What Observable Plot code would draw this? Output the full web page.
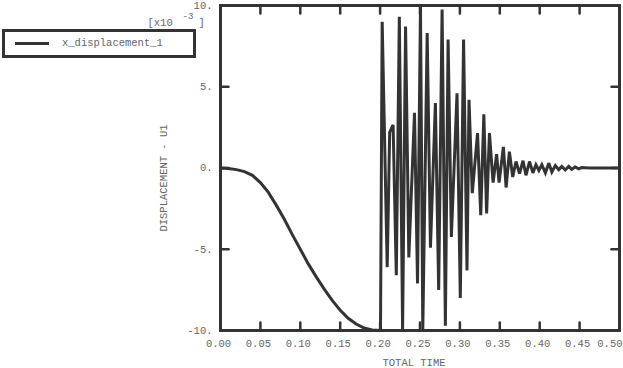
<!DOCTYPE html>
<html><head><meta charset="utf-8">
<script src="https://cdn.jsdelivr.net/npm/d3@7"></script>
<script src="https://cdn.jsdelivr.net/npm/@observablehq/plot@0.6"></script>
<style>
body{margin:0;background:#fff;}
#wrap{position:relative;width:623px;height:368px;}
#legend{position:absolute;left:2px;top:29px;width:194px;height:29px;box-sizing:border-box;border:3px solid #333;background:#fff;font:10.5px "Liberation Mono",monospace;color:#666;}
#legend .sw{position:absolute;left:10px;top:9.5px;width:34px;height:3px;background:#333;}
#legend .lb{position:absolute;left:57px;top:0;line-height:23px;white-space:pre;}
</style></head>
<body>
<div id="wrap"><div id="chart"></div>
<div id="legend"><span class="sw"></span><span class="lb">x_displacement_1</span></div></div>
<script>
// time (s)
const time = [0,0.01,0.02,0.03,0.04,0.05,0.06,0.07,0.08,0.09,0.10,0.11,0.12,0.13,0.14,0.15,0.16,0.17,0.18,0.19,0.2005,
0.2026,0.2089,0.2120,0.2163,0.2203,0.2241,0.2282,0.2319,0.2360,0.2431,0.2469,0.2506,0.2535,0.2590,0.2631,0.2693,0.2734,
0.2777,0.2818,0.2852,0.2893,0.2964,0.3005,0.3046,0.3089,0.3114,0.3155,0.3221,0.3261,0.3300,0.3335,0.3370,0.3416,0.3460,
0.3491,0.3545,0.3579,0.3620,0.3662,0.3703,0.3747,0.3791,0.3828,0.3872,0.3915,0.3953,0.3990,0.4027,0.4071,0.4115,0.4152,
0.4196,0.4239,0.4277,0.4320,0.4364,0.4401,0.4445,0.4489,0.4526,0.4626,0.5];
// displacement U1 (x10^-3)
const disp = [0,-0.03,-0.1,-0.22,-0.45,-0.9,-1.5,-2.3,-3.15,-4.1,-5.0,-5.9,-6.7,-7.45,-8.15,-8.75,-9.25,-9.6,-9.85,-9.97,-10,
9.0,-6.1,2.2,2.65,-6.6,9.3,-9.9,8.7,-5.5,3.4,-7.1,9.9,-10,8.3,-4.9,4.0,-7.5,
9.75,-9.7,7.9,-4.25,4.6,-8.0,7.9,-6.3,4.2,-1.55,2.15,-2.9,3.3,-2.8,2.15,-0.9,0.85,
-0.9,1.3,-1.2,1.0,-0.55,0.4,-0.35,0.45,-0.45,0.4,-0.3,0.2,-0.15,0.2,-0.3,0.3,-0.25,
0.15,-0.1,0.1,-0.12,0.1,-0.08,0.06,-0.05,0.03,0,0];
const xTicks = [0,0.05,0.10,0.15,0.20,0.25,0.30,0.35,0.40,0.45,0.50];
const xTickLabels = ["0.00","0.05","0.10","0.15","0.20","0.25","0.30","0.35","0.40","0.45","0.50"];
const yTicks = [10,5,0,-5,-10];
const yTickLabels = ["10.","5.","0.","-5.","-10."];
const xTitle = "TOTAL TIME";
const yTitle = "DISPLACEMENT - U1";

const data = time.map((t,i)=>({t, v: disp[i]}));
const tickShape = {draw(c,l){c.moveTo(0,0);c.lineTo(0,-l);}};
const ink = "#333", grey = "#666", font = "Liberation Mono";
const xIn = xTicks.slice(1,-1), yIn = yTicks.slice(1,-1);

const chart = Plot.plot({
  width: 623, height: 368,
  marginLeft: 220, marginRight: 4, marginTop: 5, marginBottom: 38,
  style: {fontFamily: font, fontSize: "10.5px", background: "#fff"},
  x: {domain: [0, 0.5], axis: null},
  y: {domain: [-10, 10], axis: null},
  marks: [
    Plot.line(data, {x: "t", y: "v", stroke: ink, strokeWidth: 3, strokeLinejoin: "miter", strokeMiterlimit: 3}),
    Plot.frame({stroke: ink, strokeWidth: 3}),
    Plot.vector(xIn, {x: d=>d, y: -10, length: 8, rotate: 0, anchor: "start", shape: tickShape, stroke: ink, strokeWidth: 2.5}),
    Plot.vector(xIn, {x: d=>d, y: 10, length: 8, rotate: 180, anchor: "start", shape: tickShape, stroke: ink, strokeWidth: 2.5}),
    Plot.vector(yIn, {x: 0, y: d=>d, length: 8, rotate: 90, anchor: "start", shape: tickShape, stroke: ink, strokeWidth: 2.5}),
    Plot.vector(yIn, {x: 0.5, y: d=>d, length: 8, rotate: -90, anchor: "start", shape: tickShape, stroke: ink, strokeWidth: 2.5}),
    Plot.text(xTicks.slice(0,-1), {x: d=>d, y: -10, text: (d,i)=>xTickLabels[i], dy: 13, dx: -2, fill: grey, fontSize: 10.5}),
    Plot.text(xTicks.slice(-1), {x: d=>d, y: -10, text: ()=>xTickLabels[xTickLabels.length-1], dy: 13, dx: 3, textAnchor: "end", fill: grey, fontSize: 10.5}),
    Plot.text(yTicks, {x: 0, y: d=>d, text: (d,i)=>yTickLabels[i], textAnchor: "end", dx: -8, fill: grey, fontSize: 10.5}),
    Plot.text([xTitle], {frameAnchor: "bottom", textAnchor: "middle", lineAnchor: "middle", dy: 32, dx: -6, fill: grey, fontSize: 10.5}),
    Plot.text([yTitle], {frameAnchor: "left", textAnchor: "middle", lineAnchor: "middle", rotate: -90, dx: -57, dy: 10, fill: grey, fontSize: 10.5}),
    Plot.text(["[x10"], {frameAnchor: "top-left", textAnchor: "start", lineAnchor: "middle", dx: -73, dy: 17, fill: grey, fontSize: 10.5}),
    Plot.text(["-3"], {frameAnchor: "top-left", textAnchor: "start", lineAnchor: "middle", dx: -38, dy: 11, fill: grey, fontSize: 9}),
    Plot.text(["]"], {frameAnchor: "top-left", textAnchor: "start", lineAnchor: "middle", dx: -22, dy: 17, fill: grey, fontSize: 10.5})
  ]
});
document.getElementById("chart").appendChild(chart);
</script>
</body></html>
